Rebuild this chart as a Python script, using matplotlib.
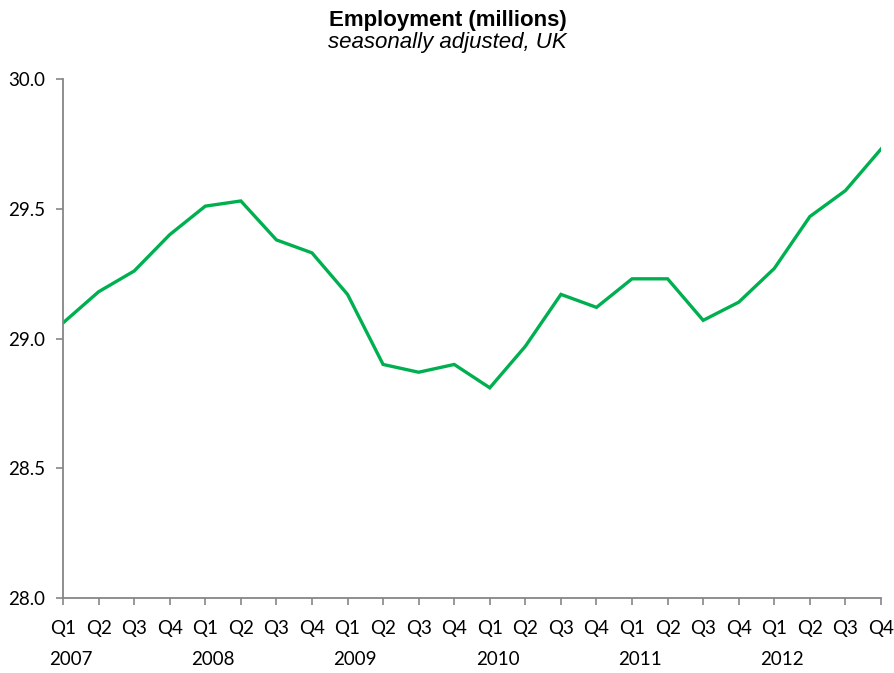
import matplotlib.pyplot as plt

# Employment, UK, seasonally adjusted (millions), 2007 Q1 - 2012 Q4
quarters = ['Q1', 'Q2', 'Q3', 'Q4'] * 6
years = ['2007', '2008', '2009', '2010', '2011', '2012']
employment = [29.06, 29.18, 29.26, 29.40,
              29.51, 29.53, 29.38, 29.33,
              29.17, 28.90, 28.87, 28.90,
              28.81, 28.97, 29.17, 29.12,
              29.23, 29.23, 29.07, 29.14,
              29.27, 29.47, 29.57, 29.73]

plt.rcParams['font.family'] = ['Lato', 'DejaVu Sans']

fig = plt.figure(figsize=(8.95, 6.73), dpi=100)
ax = fig.add_axes([63 / 895, 1 - 598 / 673, 818 / 895, 519 / 673])

x = range(len(employment))
ax.plot(x, employment, color='#00B050', linewidth=2.4, solid_joinstyle='miter')

ax.set_xlim(0, len(employment) - 1)
ax.set_ylim(28.0, 30.0)
ax.set_yticks([28.0, 28.5, 29.0, 29.5, 30.0])
ax.set_yticklabels(['%.1f' % v for v in [28.0, 28.5, 29.0, 29.5, 30.0]])
ax.set_xticks(list(x))
ax.set_xticklabels(quarters)

for s in ['top', 'right']:
    ax.spines[s].set_visible(False)
for s in ['left', 'bottom']:
    ax.spines[s].set_color('#868686')
    ax.spines[s].set_linewidth(1.3)

ax.tick_params(axis='both', direction='out', length=5, width=1.2,
               color='#868686', labelsize=13.5, labelcolor='black')
ax.tick_params(axis='x', pad=11)
ax.tick_params(axis='y', pad=8)

# year labels under the quarters
for i, yr in enumerate(years):
    ax.text(i * 4 + 0.22, -0.119, yr, transform=ax.get_xaxis_transform(),
            ha='center', va='center', fontsize=13.5)

fig.text(0.5, 1 - 26 / 673, 'Employment (millions)', ha='center', va='baseline',
         fontsize=16, fontweight='bold', family='Liberation Sans')
fig.text(0.5, 1 - 48 / 673, 'seasonally adjusted, UK', ha='center', va='baseline',
         fontsize=16, fontstyle='italic', family='Liberation Sans')

fig.savefig('out.png', dpi=100)
